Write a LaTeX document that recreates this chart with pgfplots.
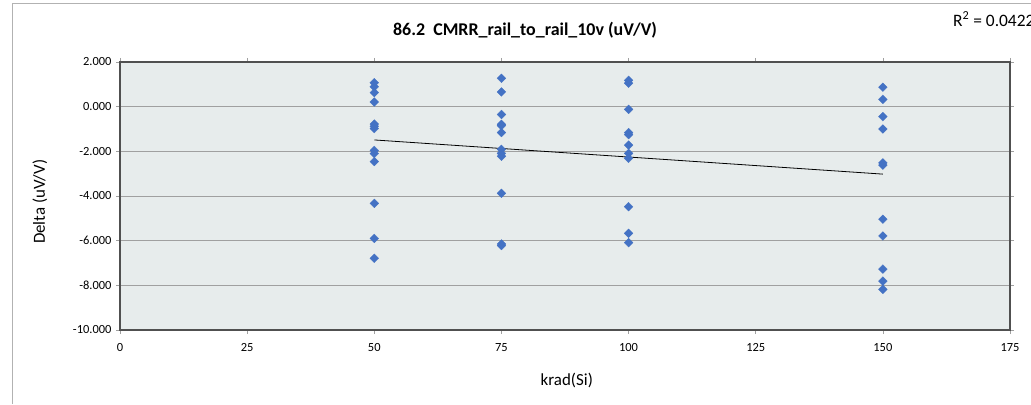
\documentclass[border=0pt]{standalone}
\usepackage{pgfplots}
\pgfplotsset{compat=1.18}
\usepackage{fontspec}
\setmainfont{Carlito}
\definecolor{bgplot}{RGB}{231,236,236}
\definecolor{ptblue}{RGB}{68,114,196}
\definecolor{gridc}{RGB}{160,160,160}
\definecolor{framec}{RGB}{80,80,80}
\begin{document}
\begin{tikzpicture}[x=1bp,y=1bp]
\useasboundingbox (0,0) rectangle (1031,404);
\draw[gray!60, line width=1bp] (12,0) -- (12,400) -- (1040,400);
\node[font=\fontsize{18}{20}\selectfont\bfseries] at (525,374) {86.2\ \ CMRR\_rail\_to\_rail\_10v (uV/V)};
\node[font=\fontsize{17.5}{19}\selectfont, anchor=west, inner sep=0pt] at (953,385) {R\textsuperscript{2} = 0.0422};
\begin{axis}[
  at={(120bp,74bp)}, anchor=south west,
  scale only axis, width=890bp, height=268bp,
  xmin=0, xmax=175, ymin=-10, ymax=2,
  xtick={0,25,...,175}, ytick={-10,-8,...,2},
  axis background/.style={fill=bgplot},
  axis line style={draw=framec, line width=1.2bp},
  ymajorgrids, grid style={gridc, line width=0.8bp},
  tick style={gridc, line width=0.6bp},
  tick align=outside, major tick length=4bp,
  xticklabel style={font=\fontsize{12.5}{14}\selectfont, yshift=-6bp},
  yticklabel style={font=\fontsize{12.5}{14}\selectfont, xshift=-1bp},
  /pgf/number format/assume math mode=true,
  y tick label style={/pgf/number format/.cd, fixed, fixed zerofill, precision=3, 1000 sep={}},
  x tick label style={/pgf/number format/.cd, fixed, precision=0},
  xlabel={krad(Si)}, ylabel={Delta (uV/V)},
  xlabel style={font=\fontsize{17}{19}\selectfont, at={(axis description cs:0.502,-0.19)}, anchor=center},
  ylabel style={font=\fontsize{17}{19}\selectfont, at={(axis description cs:-0.09,0.478)}, anchor=center},
  clip=false,
]
\addplot[only marks, mark=square*, mark size=3.1bp, mark options={rotate=45, fill=ptblue, draw=ptblue, line width=0.3bp}] coordinates {
 (50,1.07) (50,0.89) (50,0.63) (50,0.21) (50,-0.78) (50,-0.88) (50,-0.98)
 (50,-1.96) (50,-2.10) (50,-2.46) (50,-4.33) (50,-5.90) (50,-6.79)
 (75,1.27) (75,0.66) (75,-0.35) (75,-0.79) (75,-0.85) (75,-1.16) (75,-1.91) (75,-2.09) (75,-2.22)
 (75,-3.88) (75,-6.15) (75,-6.22)
 (100,1.18) (100,1.05) (100,-0.12) (100,-1.16) (100,-1.25) (100,-1.72) (100,-2.09) (100,-2.31)
 (100,-4.48) (100,-5.67) (100,-6.09)
 (150,0.87) (150,0.33) (150,-0.45) (150,-1.00) (150,-2.52) (150,-2.62)
 (150,-5.04) (150,-5.79) (150,-7.27) (150,-7.81) (150,-8.18)
};
\addplot[black, line width=0.8bp, mark=none] coordinates {(50,-1.49) (150,-3.02)};
\end{axis}
\end{tikzpicture}
\end{document}
